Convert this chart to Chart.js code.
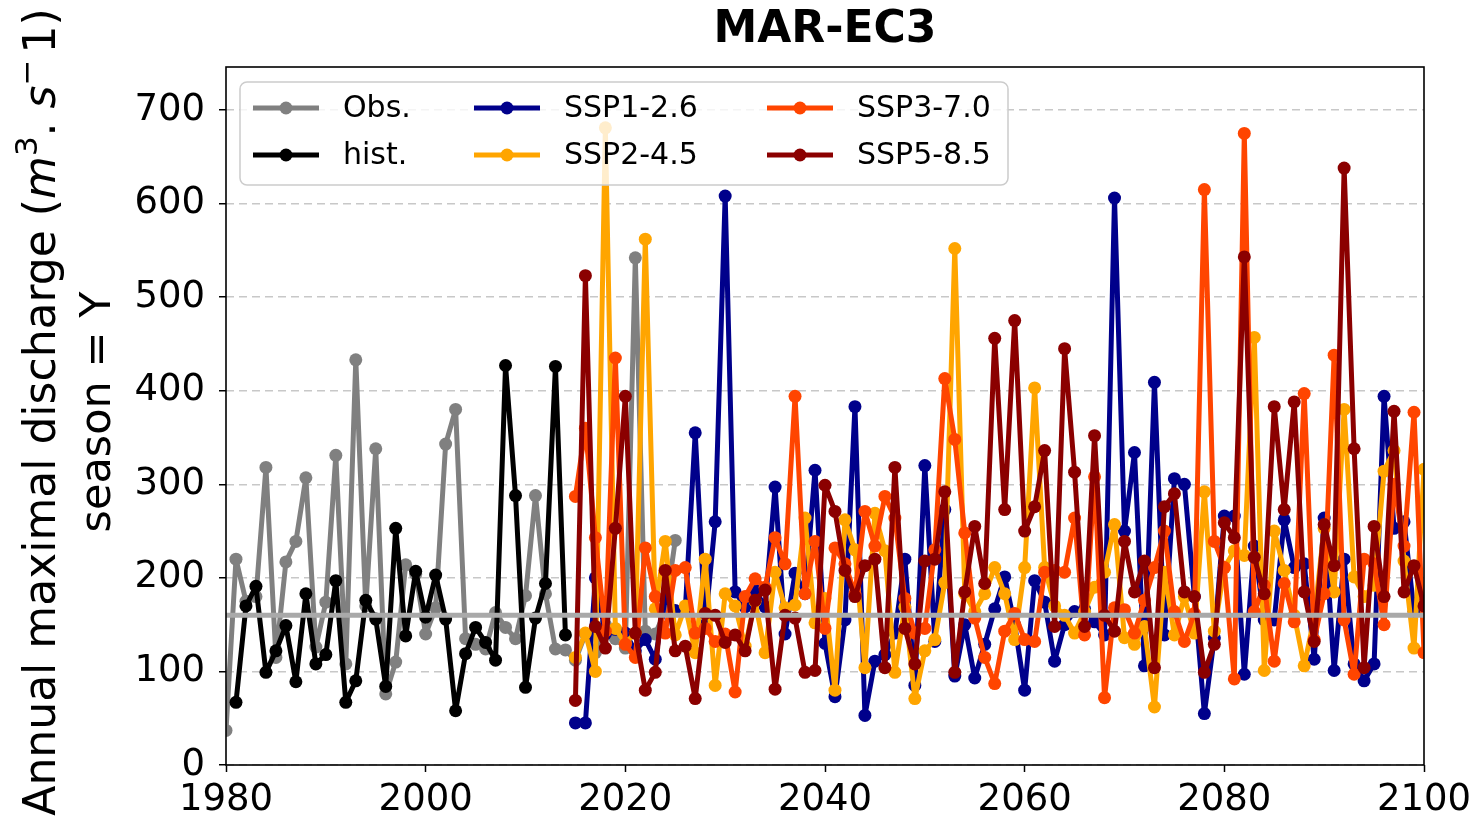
<!DOCTYPE html>
<html><head><meta charset="utf-8">
<script src="https://cdn.jsdelivr.net/npm/chart.js@4/dist/chart.umd.min.js"></script>
<style>html,body{margin:0;padding:0;background:#fff;}</style>
</head><body>
<canvas id="c" width="1478" height="825"></canvas>
<script>
// ---- data ----
const chartTitle = 'MAR-EC3';
const yLabelLine2 = 'season = Y';
const seriesLabels = ['Obs.', 'hist.', 'SSP1-2.6', 'SSP2-4.5', 'SSP3-7.0', 'SSP5-8.5'];
const xTicks = [1980, 2000, 2020, 2040, 2060, 2080, 2100];
const yTicks = [0, 100, 200, 300, 400, 500, 600, 700];
const threshold = 160;

const obsStart = 1980;
const obs = [37,220,175,180,318,115,217,239,307,126,
             174,331,108,433,170,338,76,110,214,204,
             140,168,343,380,135,129,124,163,147,135,
             181,288,183,124,123,112,140,120,150,135,
             125,542,143,140,165,240];

const histStart = 1981;
const hist = [67,170,191,99,122,149,89,183,108,
              118,197,67,90,176,156,84,253,138,207,
              158,203,156,58,119,147,131,112,427,288,
              83,157,194,426,139];

const sspStart = 2015;
const ssp126 = [45,45,200,140,145,
  141,122,134,113,178,165,165,355,150,260,
  608,185,169,187,169,297,140,205,183,315,
  130,73,155,383,53,111,118,141,220,85,
  320,132,273,95,150,93,129,167,201,150,
  80,197,174,111,150,164,167,153,139,606,
  250,334,106,409,139,306,300,180,55,136,
  266,266,97,234,155,155,262,211,215,113,
  264,101,220,108,90,108,394,253,260,164,
  173];
const ssp245 = [115,141,100,681,146,
  130,141,562,167,239,139,170,120,220,85,
  183,170,127,175,120,206,168,171,264,152,
  178,80,262,230,104,269,229,99,169,71,
  122,134,195,552,183,164,183,211,183,134,
  211,403,211,170,160,141,164,190,206,257,
  136,129,148,62,206,139,180,141,292,143,
  211,229,224,457,101,250,208,160,106,157,
  253,185,380,201,180,192,314,336,218,125,
  316];
const ssp370 = [287,360,243,143,435,
  129,115,232,180,141,208,211,141,146,132,
  140,78,180,199,190,243,215,394,183,239,
  146,232,215,183,271,234,287,264,178,141,
  146,230,413,348,248,157,115,87,143,162,
  134,132,206,208,206,264,139,308,72,168,
  166,141,176,211,250,164,132,162,615,239,
  211,92,675,164,192,111,194,153,397,134,
  183,438,155,97,220,215,150,300,234,377,
  120];
const ssp585 = [69,523,148,125,253,
  394,141,80,99,208,122,127,71,162,160,
  131,139,122,176,187,81,160,157,99,101,
  299,271,208,180,213,220,104,318,146,108,
  218,220,292,99,185,255,194,456,273,475,
  250,276,336,148,445,313,148,352,160,143,
  239,185,218,104,276,290,185,180,99,129,
  259,243,543,222,183,383,273,388,185,132,
  257,213,638,338,104,255,180,378,185,213,
  170];

const colors = ['#808080', '#000000', '#00008b', '#ffa500', '#ff4500', '#8b0000'];
const thresholdColor = '#a9a9a9';

// ---- build ----
function toPoints(start, arr) { return arr.map((v, i) => ({ x: start + i, y: v })); }
const seriesData = [
  toPoints(obsStart, obs), toPoints(histStart, hist),
  toPoints(sspStart, ssp126), toPoints(sspStart, ssp245),
  toPoints(sspStart, ssp370), toPoints(sspStart, ssp585)
];
const FONT = 'DejaVu Sans';
const LW = 5, PR = 6.5;

const datasets = seriesData.map((d, i) => ({
  label: seriesLabels[i], data: d, borderColor: colors[i], backgroundColor: colors[i],
  borderWidth: LW, borderJoinStyle: 'round', borderCapStyle: 'round',
  pointRadius: PR, pointBorderWidth: 0, pointHoverRadius: PR,
  tension: 0, order: 6 - i, clip: 0, showInLegend: true
}));
datasets.push({
  label: 'threshold', data: [{ x: xTicks[0], y: threshold }, { x: xTicks[xTicks.length - 1], y: threshold }],
  borderColor: thresholdColor, borderWidth: 5, pointRadius: 0, order: 0, clip: 0, showInLegend: false
});

const framePlugin = {
  id: 'frame',
  afterDatasetsDraw(chart) {
    const { ctx, chartArea: a } = chart;
    ctx.save(); ctx.strokeStyle = '#000'; ctx.lineWidth = 1.6;
    ctx.strokeRect(a.left, a.top, a.right - a.left, a.bottom - a.top);
    ctx.restore();
  }
};

// title and y-axis label (mixed upright / italic / superscript)
const textPlugin = {
  id: 'texts',
  afterDraw(chart) {
    const { ctx, chartArea: a } = chart;
    ctx.save();
    ctx.fillStyle = '#000';
    ctx.font = 'bold 44px "' + FONT + '"';
    ctx.textAlign = 'center'; ctx.textBaseline = 'middle';
    ctx.fillText(chartTitle, (a.left + a.right) / 2, 31);

    const fs = 44;
    const segs = [
      { t: 'Annual maximal discharge (', f: fs + 'px "' + FONT + '"', dy: 0 },
      { t: 'm', f: 'italic ' + fs + 'px "' + FONT + '"', dy: 0 },
      { t: '3', f: Math.round(fs * 0.7) + 'px "' + FONT + '"', dy: -fs * 0.4 },
      { t: '. ', f: fs + 'px "' + FONT + '"', dy: 0 },
      { t: 's', f: 'italic ' + fs + 'px "' + FONT + '"', dy: 0 },
      { t: '\u2212', f: Math.round(fs * 0.7) + 'px "' + FONT + '"', dy: -fs * 0.4 },
      { t: '1)', f: fs + 'px "' + FONT + '"', dy: 0 }
    ];
    let total = 0;
    segs.forEach(s => { ctx.font = s.f; s.w = ctx.measureText(s.t).width; total += s.w; });
    total += 6;
    const cy = (a.top + a.bottom) / 2 - 4;
    ctx.translate(55, cy); ctx.rotate(-Math.PI / 2);
    ctx.textAlign = 'left'; ctx.textBaseline = 'alphabetic';
    let x = -total / 2;
    segs.forEach((s, i) => { ctx.font = s.f; ctx.fillText(s.t, x, s.dy); x += s.w + (i === 5 ? 6 : 0); });
    ctx.font = '43px "' + FONT + '"'; ctx.textAlign = 'center';
    ctx.fillText(yLabelLine2, 0, 55);
    ctx.restore();
  }
};

const legendPlugin = {
  id: 'mplLegend',
  afterDraw(chart) {
    const ctx = chart.ctx;
    const ds = chart.data.datasets.filter(d => d.showInLegend);
    ctx.save();
    ctx.beginPath();
    ctx.roundRect(240, 82, 768, 103, 7);
    ctx.fillStyle = 'rgba(255,255,255,0.8)'; ctx.fill();
    ctx.strokeStyle = '#cccccc'; ctx.lineWidth = 1.5; ctx.stroke();
    const colX = [253, 474, 767];
    const rowY = [108, 155];
    ctx.font = '30px "' + FONT + '"'; ctx.textBaseline = 'middle'; ctx.textAlign = 'left';
    ds.forEach((d, i) => {
      const col = Math.floor(i / 2), row = i % 2;
      const x0 = colX[col], y = rowY[row];
      ctx.strokeStyle = d.borderColor; ctx.lineWidth = LW; ctx.lineCap = 'butt';
      ctx.beginPath(); ctx.moveTo(x0, y); ctx.lineTo(x0 + 66, y); ctx.stroke();
      ctx.fillStyle = d.borderColor; ctx.beginPath(); ctx.arc(x0 + 33, y, PR, 0, Math.PI * 2); ctx.fill();
      ctx.fillStyle = '#000'; ctx.fillText(d.label, x0 + 90, y + 1);
    });
    ctx.restore();
  }
};

new Chart(document.getElementById('c'), {
  type: 'line',
  data: { datasets },
  plugins: [framePlugin, textPlugin, legendPlugin],
  options: {
    responsive: false, animation: false, devicePixelRatio: 1,
    layout: { padding: { left: 0, right: 54, top: 67, bottom: 0 } },
    plugins: { legend: { display: false }, tooltip: { enabled: false }, title: { display: false } },
    scales: {
      x: {
        type: 'linear', min: xTicks[0], max: xTicks[xTicks.length - 1],
        afterBuildTicks: s => { s.ticks = xTicks.map(v => ({ value: v })); },
        ticks: { font: { family: FONT, size: 37 }, color: '#000', padding: 6, maxRotation: 0, autoSkip: false,
          callback: v => String(v) },
        grid: { drawOnChartArea: false, drawTicks: true, tickLength: 7, tickColor: '#000', tickWidth: 1.5 },
        border: { display: false },
        afterFit: s => { s.height = 60; }
      },
      y: {
        min: 0, max: 746,
        afterBuildTicks: s => { s.ticks = yTicks.map(v => ({ value: v })); },
        ticks: { font: { family: FONT, size: 37 }, color: '#000', padding: 14, autoSkip: false, callback: v => String(v) },
        grid: { color: '#c8c8c8', lineWidth: 1.5, drawTicks: true, tickLength: 7, tickColor: '#000', tickWidth: 1.5 },
        border: { display: false, dash: [8, 5] },
        afterFit: s => { s.width = 226; }
      }
    }
  }
});
</script>
</body></html>
